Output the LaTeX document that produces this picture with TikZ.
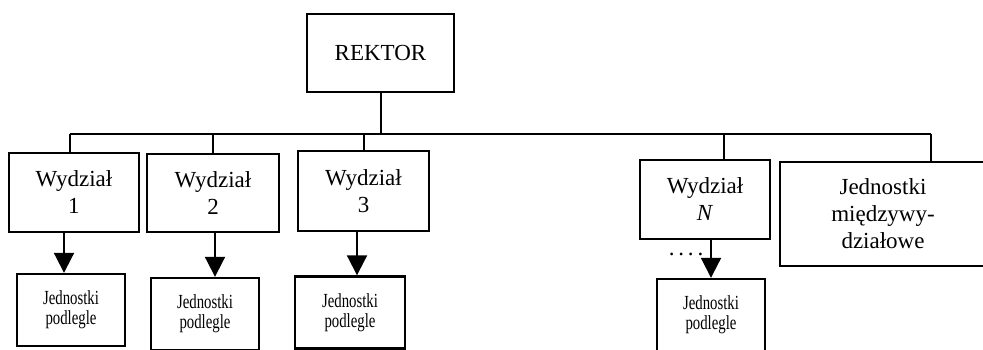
\documentclass[tikz,border=0pt]{standalone}
\usepackage{fontspec}
\setmainfont{Liberation Serif}
\newfontfamily\narrowfont[FakeStretch=0.74]{Liberation Serif}
\usetikzlibrary{arrows.meta,positioning}

\begin{document}
\begin{tikzpicture}[x=0.5pt,y=-0.5pt,
   unit/.style={draw,line width=1.2pt,align=center,inner sep=0pt,
     font=\fontsize{11.5}{13.5}\selectfont},
   sub/.style={draw,line width=1.2pt,align=center,inner sep=0pt,
     minimum width=54pt,minimum height=36pt,
     font=\narrowfont\fontsize{10}{10}\selectfont},
   link/.style={line width=1pt},
   arr/.style={line width=1pt,-{Triangle[width=10pt,length=10pt]}}]
   \clip (0,0) rectangle (983,349);

   \node[unit,minimum width=73.5pt,minimum height=39pt] (rektor) at (380.5,53) {REKTOR};
   \node[unit,minimum width=65pt,minimum height=39.5pt] (w1) at (74,192.5) {Wydział\\1};
   \node[unit,minimum width=66pt,minimum height=39pt] (w2) at (213,193) {Wydział\\2};
   \node[unit,minimum width=65.5pt,minimum height=40pt] (w3) at (363.5,191) {Wydział\\3};
   \node[unit,minimum width=65pt,minimum height=39.5pt] (wN) at (705,199.5) {Wydział\\\textit{N}};
   \node[unit,minimum width=103pt,minimum height=52pt] (jm) at (883,214)
     {Jednostki\\międzywy-\\działowe};

   \node[sub] (s1) at (71,310) {Jednostki\\podlegle};
   \node[sub] (s2) at (205,314) {Jednostki\\podlegle};
   \node[sub,minimum width=55pt] (s3) at (350,312.5) {Jednostki\\podlegle};
   \node[sub] (sN) at (711,315) {Jednostki\\podlegle};
   \node[font=\fontsize{11.5}{13.5}\selectfont] (dots) at (686,254) {.\,.\,.\,.};

   % szyna pozioma
   \coordinate (busL) at (70,134);
   \coordinate (tapN) at (724,134);
   \coordinate (busR) at (931,134);

   \draw[link] (rektor.south) -- (rektor.south |- busL);
   \draw[link] (busL) -- (busR);
   \draw[link] (busL) -- (busL |- w1.north);
   \draw[link] (w2.north |- busL) -- (w2.north);
   \draw[link] (w3.north |- busL) -- (w3.north);
   \draw[link] (tapN) -- (tapN |- wN.north);
   \draw[link] (busR) -- (busR |- jm.north);

   \draw[arr] ([xshift=-3.5pt]s1.north |- w1.south) -- ([xshift=-3.5pt]s1.north);
   \draw[arr] ([xshift=5pt]s2.north |- w2.south) -- ([xshift=5pt]s2.north);
   \draw[arr] ([xshift=3.5pt]s3.north |- w3.south) -- ([xshift=3.5pt]s3.north);
   \draw[arr] (sN.north |- wN.south) -- (sN.north);
\end{tikzpicture}
\end{document}
